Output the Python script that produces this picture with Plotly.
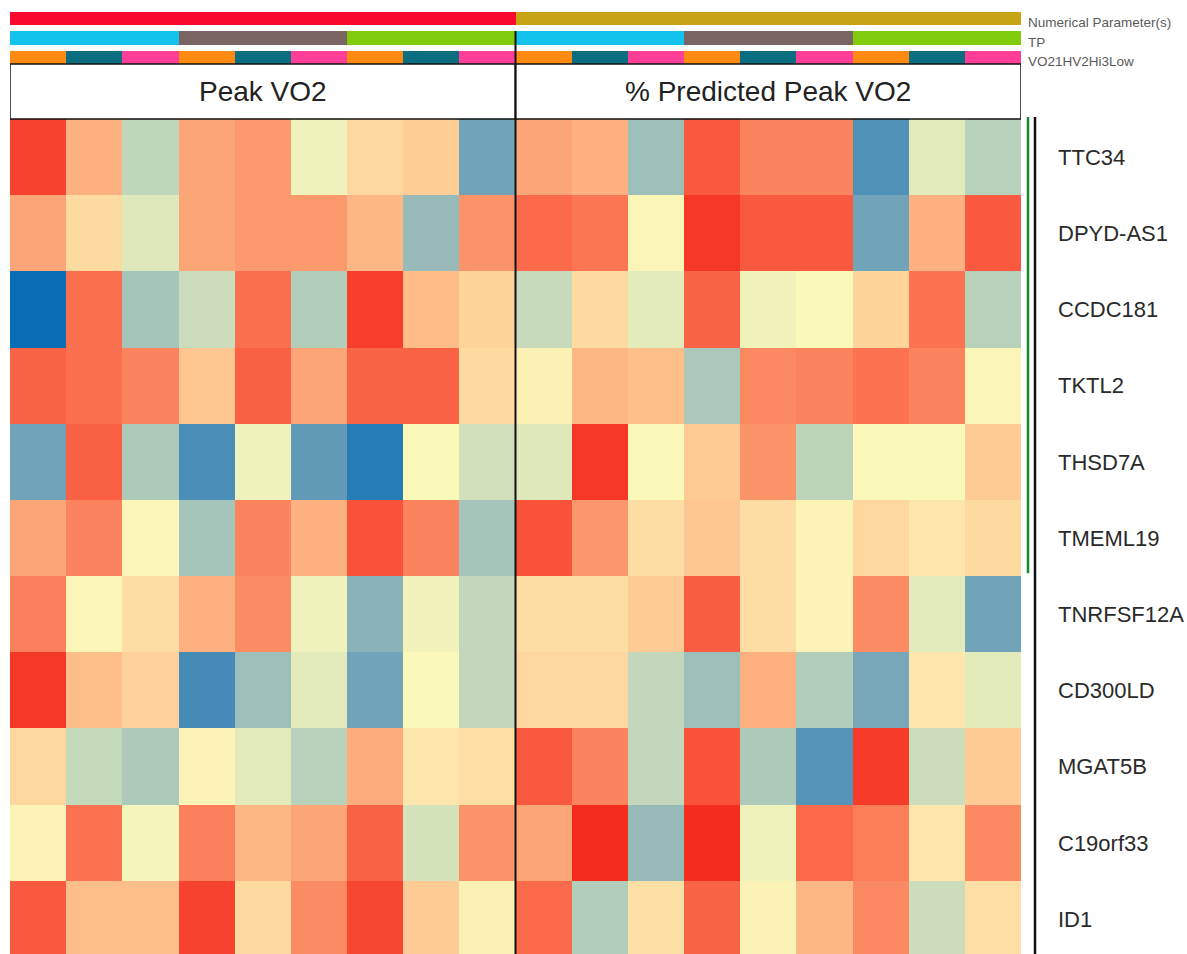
import plotly.graph_objects as go

# ---------------- data ----------------
genes = ["TTC34", "DPYD-AS1", "CCDC181", "TKTL2", "THSD7A", "TMEML19",
         "TNRFSF12A", "CD300LD", "MGAT5B", "C19orf33", "ID1"]

panels = ["Peak VO2", "% Predicted Peak VO2"]
tp_levels = ["TP1", "TP2", "TP3"]
vo2_groups = ["1 HV", "2 Hi", "3 Low"]

# scaled expression, columns = TP1(HV,Hi,Low), TP2(...), TP3(...)
peak_vo2 = [
    [0.90, 0.40, -0.25, 0.45, 0.50, -0.05, 0.22, 0.27, -0.55],
    [0.45, 0.20, -0.12, 0.45, 0.50, 0.50, 0.37, -0.40, 0.53],
    [-1.00, 0.70, -0.35, -0.20, 0.70, -0.30, 0.92, 0.35, 0.24],
    [0.75, 0.70, 0.60, 0.30, 0.77, 0.45, 0.75, 0.76, 0.20],
    [-0.55, 0.77, -0.32, -0.72, -0.05, -0.62, -0.88, 0.00, -0.18],
    [0.45, 0.60, 0.02, -0.35, 0.60, 0.40, 0.83, 0.60, -0.35],
    [0.62, 0.02, 0.18, 0.40, 0.57, -0.05, -0.45, -0.04, -0.24],
    [0.95, 0.34, 0.25, -0.75, -0.38, -0.10, -0.55, 0.00, -0.24],
    [0.22, -0.23, -0.32, 0.03, -0.10, -0.28, 0.42, 0.12, 0.17],
    [0.03, 0.68, -0.03, 0.62, 0.37, 0.45, 0.76, -0.16, 0.53],
    [0.80, 0.34, 0.34, 0.90, 0.20, 0.57, 0.88, 0.28, 0.05],
]
pct_pred_vo2 = [
    [0.45, 0.40, -0.38, 0.80, 0.60, 0.60, -0.70, -0.10, -0.28],
    [0.72, 0.66, 0.02, 0.95, 0.80, 0.80, -0.55, 0.40, 0.80],
    [-0.22, 0.20, -0.10, 0.75, -0.04, 0.00, 0.24, 0.68, -0.28],
    [0.05, 0.37, 0.34, -0.33, 0.58, 0.60, 0.68, 0.60, 0.02],
    [-0.12, 0.95, 0.00, 0.28, 0.53, -0.26, 0.00, 0.00, 0.28],
    [0.83, 0.52, 0.18, 0.30, 0.18, 0.03, 0.22, 0.12, 0.20],
    [0.18, 0.18, 0.28, 0.78, 0.18, 0.03, 0.57, -0.10, -0.55],
    [0.22, 0.22, -0.24, -0.38, 0.40, -0.30, -0.52, 0.12, -0.10],
    [0.80, 0.60, -0.24, 0.83, -0.32, -0.67, 0.93, -0.20, 0.28],
    [0.45, 1.00, -0.40, 1.00, -0.05, 0.72, 0.63, 0.12, 0.58],
    [0.72, -0.30, 0.16, 0.75, 0.04, 0.37, 0.58, -0.20, 0.17],
]

track_names = ["Numerical Parameter(s)", "TP", "VO21HV2Hi3Low"]
panel_colors = ["#F90A2D", "#C6A415"]
tp_colors = ["#14C3EB", "#7A6464", "#80CB0C"]
vo2_colors = ["#FF8A12", "#0B6E80", "#FF3F97"]

# ---------------- build ----------------
columns = []
for p in panels:
    for t in tp_levels:
        for g in vo2_groups:
            columns.append((p, t, g))
ncol = len(columns)
xs = list(range(ncol))

z = [pv + pp for pv, pp in zip(peak_vo2, pct_pred_vo2)]

# annotation tracks encoded into one discrete heatmap
track_codes = [
    [panels.index(c[0]) for c in columns],
    [2 + tp_levels.index(c[1]) for c in columns],
    [5 + vo2_groups.index(c[2]) for c in columns],
]
track_text = [[c[0] for c in columns], [c[1] for c in columns], [c[2] for c in columns]]
cat_colors = panel_colors + tp_colors + vo2_colors
n = len(cat_colors)
cat_scale = []
for i, c in enumerate(cat_colors):
    cat_scale.append([i / n, c])
    cat_scale.append([(i + 1) / n, c])

expr_scale = [
    [0.0, "#0A6EB4"],
    [0.25, "#7DA9B9"],
    [0.375, "#C0D6BB"],
    [0.5, "#FBF9BA"],
    [0.625, "#FED29A"],
    [0.75, "#FC9A6E"],
    [0.875, "#FA6446"],
    [1.0, "#F42C1E"],
]

W, H = 1187, 954
x0_px, x1_px = 10, 1021
heat_top_px = 119
track_top_px, track_bot_px = 9, 67
hdr_top_px = 64
row_px = 76.2

def py(px):
    return (H - px) / H

visible_rows = (H - heat_top_px) / row_px

fig = go.Figure()
fig.add_trace(go.Heatmap(
    z=z, x=xs, y=genes, colorscale=expr_scale, zmin=-1, zmax=1,
    showscale=False, xaxis="x", yaxis="y"))
fig.add_trace(go.Heatmap(
    z=track_codes, x=xs, y=track_names, text=track_text,
    colorscale=cat_scale, zmin=-0.5, zmax=n - 0.5, ygap=6,
    showscale=False, xaxis="x", yaxis="y2", hoverinfo="text+y"))

fig.update_layout(
    width=W, height=H,
    margin=dict(l=0, r=0, t=0, b=0),
    paper_bgcolor="white", plot_bgcolor="white",
    font=dict(family="Liberation Sans, Arial, sans-serif", color="#222"),
    xaxis=dict(domain=[x0_px / W, x1_px / W], range=[-0.5, ncol - 0.5],
               showticklabels=False, showgrid=False, zeroline=False, ticks=""),
    yaxis=dict(domain=[0, py(heat_top_px)], range=[visible_rows - 0.5, -0.5],
               side="right", ticks="", showgrid=False, zeroline=False,
               ticklabelstandoff=36, tickfont=dict(size=22, color="#2a2a2a")),
    yaxis2=dict(domain=[py(track_bot_px), py(track_top_px)],
                range=[len(track_names) - 0.5, -0.5],
                side="right", ticks="", showgrid=False, zeroline=False,
                showticklabels=False),
    showlegend=False,
)

# track labels (slightly below bar centres, as in the original)
for t in track_names:
    fig.add_annotation(xref="paper", yref="y2", x=1026 / W, y=t, yshift=-4,
                       xanchor="left", yanchor="middle", text=t, showarrow=False,
                       font=dict(size=13.5, color="#5a5a5a"))

# panel header boxes and titles
half = ncol // 2
for k, p in enumerate(panels):
    xa, xb = k * half - 0.5, (k + 1) * half - 0.5
    fig.add_shape(type="rect", xref="x", yref="paper", x0=xa, x1=xb,
                  y0=py(heat_top_px), y1=py(hdr_top_px),
                  line=dict(color="#111", width=1.5), fillcolor="white")
    fig.add_annotation(xref="x", yref="paper", x=(xa + xb) / 2,
                       y=(py(heat_top_px) + py(hdr_top_px)) / 2,
                       xanchor="center", yanchor="middle",
                       text=p, showarrow=False,
                       font=dict(size=28, color="#222"))

# split line between panels
fig.add_shape(type="line", xref="x", yref="paper", x0=half - 0.5, x1=half - 0.5,
              y0=0, y1=py(31), line=dict(color="#111", width=2))

# right side cluster lines
n_green = 6
fig.add_shape(type="line", xref="paper", yref="paper", x0=1028 / W, x1=1028 / W,
              y0=py(heat_top_px + n_green * row_px - 3), y1=py(heat_top_px - 2),
              line=dict(color="#128A2E", width=2.5))
fig.add_shape(type="line", xref="paper", yref="paper", x0=1035 / W, x1=1035 / W,
              y0=0, y1=py(heat_top_px - 2),
              line=dict(color="#111", width=2.5))

fig.write_html("out.html", config={"displayModeBar": False},
               post_script="document.body.style.margin='0';document.body.style.padding='0';")
